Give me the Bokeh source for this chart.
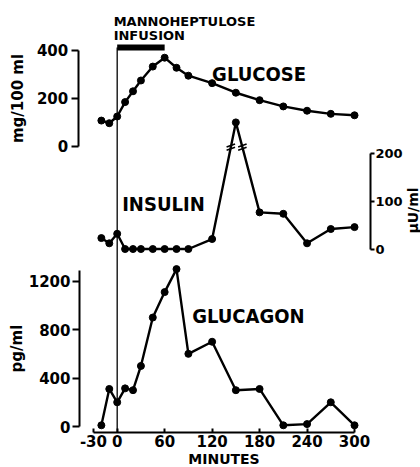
import math
import numpy as np
from bokeh.plotting import figure
from bokeh.models import Range1d, LinearAxis, FixedTicker
from bokeh.core.properties import value
from bokeh.embed import file_html
from bokeh.resources import INLINE

# ---------------- data ----------------
minutes = [-20, -10, 0, 10, 20, 30, 45, 60, 75, 90, 120, 150, 180, 210, 240, 270, 300]
glucose = [108, 97, 125, 185, 230, 275, 333, 370, 328, 295, 264, 224, 193, 167, 149, 136, 130]
insulin = [23, 12, 32, 0, 0, 0, 0, 0, 0, 0, 21, 266, 77, 74, 12, 42, 46]
glucagon = [10, 310, 200, 315, 300, 500, 900, 1110, 1300, 600, 700, 300, 310, 10, 20, 200, 10]

x_ticks = [-30, 0, 60, 120, 180, 240, 300]
glucose_ticks = [0, 200, 400]
insulin_ticks = [0, 100, 200]
glucagon_ticks = [0, 400, 800, 1200]
infusion = [0, 60]
insulin_break = 214

LABEL_FONT = "DejaVu Sans"
BIG_FONT = "DejaVu Sans Condensed"
INK = "black"

p = figure(width=420, height=467, x_range=Range1d(-147.5, 383.4),
           y_range=Range1d(-338.6, 3518.3), output_backend="svg",
           toolbar_location=None, min_border=0, x_axis_type=None, y_axis_type=None)
p.title.visible = False
p.outline_line_color = None
p.background_fill_color = "white"
p.border_fill_color = "white"
p.extra_y_ranges = {"glu": Range1d(-1337.5, 608.3), "ins": Range1d(-459.0, 522.1)}


def style(ax, tick_in=0, tick_out=7, standoff=3, label_standoff=8,
          tick_size="15px", label_size="15px"):
    ax.axis_line_width = 2
    ax.axis_line_color = INK
    ax.major_tick_line_width = 2
    ax.major_tick_line_color = INK
    ax.major_tick_in = tick_in
    ax.major_tick_out = tick_out
    ax.minor_tick_line_color = None
    ax.major_label_standoff = standoff
    ax.major_label_text_font = LABEL_FONT
    ax.major_label_text_font_style = "bold"
    ax.major_label_text_font_size = tick_size
    ax.major_label_text_color = INK
    ax.axis_label_text_font = LABEL_FONT
    ax.axis_label_text_font_style = "bold"
    ax.axis_label_text_font_size = label_size
    ax.axis_label_text_color = INK
    ax.axis_label_standoff = label_standoff


xa = LinearAxis(ticker=FixedTicker(ticks=x_ticks), fixed_location=-47,
                bounds=(-30, 300), axis_label="MINUTES")
xa.major_label_overrides = {t: str(t) for t in x_ticks}
style(xa, tick_in=4, tick_out=0, standoff=3, label_standoff=0, label_size="14px")
p.add_layout(xa, "below")

ga = LinearAxis(y_range_name="glu", ticker=FixedTicker(ticks=glucose_ticks),
                fixed_location=-49.3, bounds=(0, 400), axis_label="mg/100 ml")
style(ga, tick_out=7, standoff=3, label_standoff=7)
p.add_layout(ga, "left")

ca = LinearAxis(ticker=FixedTicker(ticks=glucagon_ticks), fixed_location=-47.7,
                bounds=(0, 1290), axis_label="pg/ml")
style(ca, tick_out=7, standoff=2, label_standoff=0)
p.add_layout(ca, "left")

ia = LinearAxis(y_range_name="ins", ticker=FixedTicker(ticks=insulin_ticks),
                fixed_location=320.2, bounds=(0, 200))
style(ia, tick_out=4, standoff=1, tick_size="13px")
p.add_layout(ia, "right")

# infusion bar and start line
bar_y = 412
p.segment(x0=[infusion[0]], x1=[infusion[1]], y0=[bar_y], y1=[bar_y],
          y_range_name="glu", line_width=6, line_color=INK, line_cap="butt")
p.segment(x0=[infusion[0]], x1=[infusion[0]], y0=[bar_y], y1=[-1190],
          y_range_name="glu", line_width=1.3, line_color=INK)

# series
for ys, rng in ((glucose, "glu"), (insulin, "ins"), (glucagon, "default")):
    p.line(minutes, ys, y_range_name=rng, line_width=2.4, line_color=INK)
    p.scatter(minutes, ys, y_range_name=rng, size=7, fill_color=INK, line_color=INK)

# axis-break marks on the insulin peak
i_peak = int(np.argmax(insulin))
bx = []
for j in (i_peak - 1, i_peak + 1):
    x0, y0 = minutes[j], insulin[j]
    x1, y1 = minutes[i_peak], insulin[i_peak]
    bx.append(x0 + (insulin_break - y0) / (y1 - y0) * (x1 - x0))
for dy in (-3.5, 3.5):
    p.scatter(bx, [insulin_break + dy] * 2, y_range_name="ins", marker="dash",
              size=9, angle=0.35, line_width=1.6, line_color=INK)

# texts
def txt(x, y, s, rng, size, font, angle=0.0, align="left"):
    p.text(x=[x], y=[y], text=[s], y_range_name=rng, text_font=value(font),
           text_font_style="bold", text_font_size=size, text_color=INK,
           text_baseline="middle", text_align=align, angle=angle)

txt(-4.5, 521.7, "MANNOHEPTULOSE", "glu", "13px", LABEL_FONT)
txt(-4.5, 461, "INFUSION", "glu", "13px", LABEL_FONT)
txt(120, 303, "GLUCOSE", "glu", "20px", BIG_FONT)
txt(6.3, 95, "INSULIN", "ins", "20px", BIG_FONT)
txt(94.8, 916.7, "GLUCAGON", "default", "20px", BIG_FONT)
# unit label of the insulin axis (reads bottom to top, like the reference)
txt(374.0, 81, "μU/ml", "ins", "14px", LABEL_FONT, angle=math.pi / 2, align="center")

open("out.html", "w").write(file_html(p, INLINE))
